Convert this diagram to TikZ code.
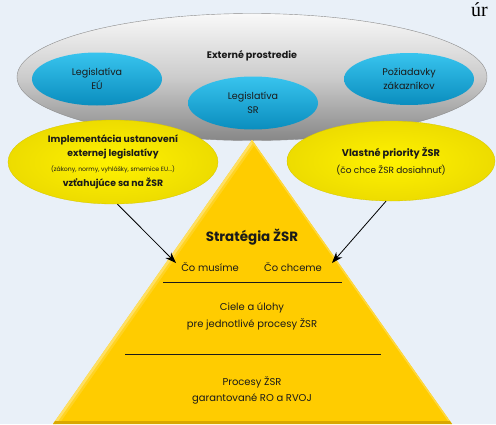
\documentclass[tikz,border=0pt]{standalone}
\usepackage{fontspec}
\setmainfont{Poppins}
\newfontfamily\seriffont{Liberation Serif}
\usetikzlibrary{shapes.geometric,arrows.meta}
\definecolor{bg}{HTML}{E9F0F8}
\definecolor{txt}{HTML}{1A1A1A}
\definecolor{bluetop}{HTML}{38C4EE}
\definecolor{bluemid}{HTML}{16B3E3}
\definecolor{bluebot}{HTML}{0A8DBE}
\definecolor{yelin}{HTML}{FFF200}
\definecolor{yelout}{HTML}{EDDC00}
\definecolor{pyr}{HTML}{FFCC00}
\definecolor{pyrlight}{HTML}{FFE57A}
\definecolor{pyrdark}{HTML}{D9A800}
\tikzset{
  blueell/.style={ellipse, inner sep=0pt, minimum width=130bp, minimum height=53bp,
    top color=bluetop, middle color=bluemid, bottom color=bluebot,
    text=txt, align=center, font=\fontsize{9.6}{14.5}\selectfont},
  yelell/.style={ellipse, inner sep=0pt, inner color=yelin, outer color=yelout,
    draw=yelout!90!black, line width=0.3bp},
  lbl/.style={text=txt, inner sep=0pt, align=center},
  arr/.style={-{Stealth[length=11bp,width=8bp]}, line width=0.8bp, black},
  sep/.style={line width=0.9bp, txt}
}
\begin{document}
\begin{tikzpicture}[x=1bp,y=1bp]
\useasboundingbox (0,0) rectangle (496,424);
\clip (0,0) rectangle (496,424);
\fill[bg] (0,0) rectangle (496,424);
% stray serif text at top right
\node[anchor=base west, inner sep=0pt, font=\seriffont\fontsize{20}{20}\selectfont, text=black] (ur) at (471,407) {úr};
% external environment
\node[ellipse, minimum width=470bp, minimum height=127bp, inner sep=0pt,
  top color=white!95!gray, bottom color=black!47, middle color=black!20,
  draw=black!45, line width=0.4bp] (ext) at (252,347) {};
\node[lbl, font=\bfseries\fontsize{9.6}{12}\selectfont] (extlbl) at (252,368) {Externé prostredie};
\node[blueell] (eu) at (97,345) {Legislatíva\\EÚ};
\node[blueell] (sr) at (253,321) {Legislatíva\\SR};
\node[blueell, minimum height=52bp] (poz) at (409,345) {Požiadavky\\zákazníkov};
% pyramid
\coordinate (apex) at (252,284);
\coordinate (bl) at (53,0);
\coordinate (br) at (452,0);
\fill[pyr] (apex) -- (bl) -- (br) -- cycle;
\begin{scope}
  \clip (apex) -- (bl) -- (br) -- cycle;
  \draw[pyrlight, line width=5bp] (bl) -- (apex);
  \draw[pyrlight!60!pyr, line width=10bp, opacity=0.5] (bl) -- (apex);
  \draw[pyrlight!50!pyr, line width=3bp] (apex) -- (br);
  \fill[pyrdark] (0,0) rectangle (496,3);
\end{scope}
% yellow ellipses
\node[yelell, minimum width=210bp, minimum height=84bp] (yl) at (113,262) {};
\node[lbl, font=\bfseries\fontsize{9.3}{11}\selectfont] (yl1) at (113,284) {Implementácia ustanovení};
\node[lbl, font=\bfseries\fontsize{9.3}{11}\selectfont] (yl2) at (113,270) {externej legislatívy};
\node[lbl, font=\fontsize{6.2}{8}\selectfont] (yl3) at (113,255) {(zákony, normy, vyhlášky, smernice EU...)};
\node[lbl, font=\bfseries\fontsize{9.3}{11}\selectfont] (yl4) at (113,241) {vzťahujúce sa na ŽSR};
\node[yelell, minimum width=208bp, minimum height=80bp] (yr) at (391,263) {};
\node[lbl, font=\bfseries\fontsize{9.8}{12}\selectfont] (yr1) at (391,271) {Vlastné priority ŽSR};
\node[lbl, font=\fontsize{9}{11}\selectfont] (yr2) at (391,254) {(čo chce ŽSR dosiahnuť)};
% pyramid texts
\node[lbl, font=\bfseries\fontsize{13.5}{15}\selectfont] (strat) at (252,187) {Stratégia ŽSR};
\node[lbl, font=\fontsize{10}{12}\selectfont] (must) at (210,157) {Čo musíme};
\node[lbl, font=\fontsize{10}{12}\selectfont] (want) at (293,157) {Čo chceme};
\coordinate (l1a) at (163,142);
\coordinate (l1b) at (342,142);
\draw[sep] (l1a) -- (l1b);
\node[lbl, font=\fontsize{10}{17}\selectfont] (ciele) at (252,108) {Ciele a úlohy\\pre jednotlivé procesy ŽSR};
\coordinate (l2a) at (125,70);
\coordinate (l2b) at (381,70);
\draw[sep] (l2a) -- (l2b);
\node[lbl, font=\fontsize{10}{16}\selectfont] (proc) at (252,34) {Procesy ŽSR\\garantované RO a RVOJ};
% arrows
\coordinate (tipL) at (176,161);
\coordinate (tipR) at (332,161);
\draw[arr] (yl.-84) -- (tipL);
\draw[arr] (yr.-97) -- (tipR);
\end{tikzpicture}
\end{document}
